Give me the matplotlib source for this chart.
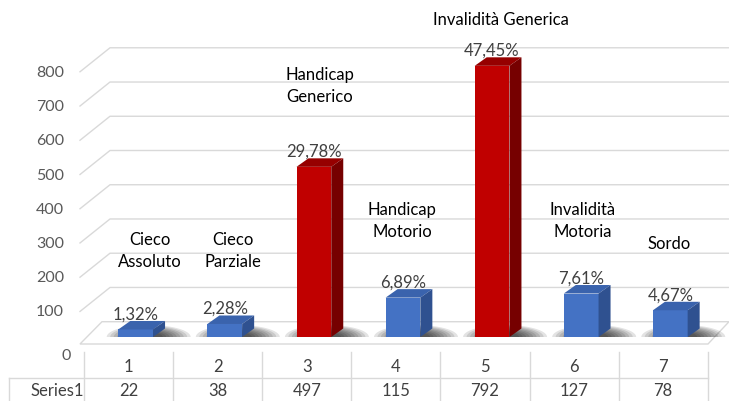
import matplotlib
matplotlib.use('Agg')
import numpy as np
import matplotlib.pyplot as plt
from matplotlib.patches import Polygon
from matplotlib.lines import Line2D
from matplotlib.transforms import IdentityTransform

# --- data ---
categories = ['1', '2', '3', '4', '5', '6', '7']
values = [22, 38, 497, 115, 792, 127, 78]
pct_labels = ['1,32%', '2,28%', '29,78%', '6,89%', '47,45%', '7,61%', '4,67%']
disability = ['Cieco\nAssoluto', 'Cieco\nParziale', 'Handicap\nGenerico',
              'Handicap\nMotorio', 'Invalidità Generica', 'Invalidità\nMotoria', 'Sordo']
is_red = [False, False, True, False, True, False, False]
y_ticks = [0, 100, 200, 300, 400, 500, 600, 700, 800]
series_name = 'Series1'

# --- layout (pixels, origin top-left) ---
W, H, DPI = 729, 402, 100
BASE_PX = 338          # bar bases
PX_PER_UNIT = 0.3424
COL_LEFT, COL_W = 84, 89.1
BAR_W = 0.39
BAR_SHIFT = 0.08
DEPTH_X, DEPTH_Y = 12, 8.5     # bar depth (right, up)
WALL_UP = 15.3                 # back wall above bar plane
SLANT_X0, SLANT_X1, WALL_RIGHT = 80, 110, 729
# name label centres (pixels)
name_pos = [(150, 251), (233, 251), (320, 86), (402, 221), (501, 20), (583, 221), (669, 244)]

GRID = '#d9d9d9'
BLUE = ('#4472c4', '#3a63ad', '#2f5190')   # front, top, side
RED = ('#c00000', '#960000', '#760000')

plt.rcParams['font.family'] = ['Lato', 'DejaVu Sans']

fig = plt.figure(figsize=(W / DPI, H / DPI), dpi=DPI)
ymax = 850
ax = fig.add_axes([COL_LEFT / W, (H - BASE_PX) / H, 7 * COL_W / W, ymax * PX_PER_UNIT / H])
ax.set_xlim(-0.5, 6.5)
ax.set_ylim(0, ymax)
ax.axis('off')
ID = IdentityTransform()


def disp(x, y):
    return ax.transData.transform((x, y))


y0 = disp(0, 0)[1]

# back wall gridlines + slants, tick labels
for v in y_ticks:
    by = disp(0, v)[1] + WALL_UP
    fy = by - 24
    if v > 0:
        ax.add_line(Line2D([SLANT_X0, SLANT_X1, WALL_RIGHT], [fy, by, by], transform=ID,
                           color=GRID, lw=1, clip_on=False, zorder=1))
        fig.text(64, fy, str(v), transform=ID, ha='right', va='center',
                 fontsize=11.5, color='#595959')
    else:
        fig.text(71, H - 356, str(v), transform=ID, ha='right', va='center',
                 fontsize=11.5, color='#595959')

# floor
floor = Polygon([(SLANT_X0, y0 - 7), (708, y0 - 7), (WALL_RIGHT, y0 + WALL_UP),
                 (102, y0 + WALL_UP)], closed=True, transform=ID, facecolor='white',
                edgecolor=GRID, lw=1, clip_on=False, zorder=1)
ax.add_patch(floor)

xs = [i + BAR_SHIFT for i in range(len(values))]

# soft shadows behind the bar bases (upper half-ellipses, stacked)
theta = np.linspace(0, np.pi, 40)
for x in xs:
    cx = disp(x, 0)[0] + 13
    for k in range(9):
        rx, ry = 42 - k * 3.5, 12 - k * 0.9
        pts = np.column_stack([cx + rx * np.cos(theta), y0 + ry * np.sin(theta)])
        ax.add_patch(Polygon(pts, closed=True, transform=ID, facecolor='black', alpha=0.11,
                             lw=0, clip_on=False, zorder=2))

# bars: front faces via bar, top/side faces from the same geometry
front_cols = [RED[0] if r else BLUE[0] for r in is_red]
ax.bar(xs, values, BAR_W, color=front_cols, zorder=4, clip_on=False)
for x, v, r in zip(xs, values, is_red):
    cols = RED if r else BLUE
    l, b = disp(x - BAR_W / 2, 0)
    rr, t = disp(x + BAR_W / 2, v)
    top = [(l, t), (rr, t), (rr + DEPTH_X, t + DEPTH_Y), (l + DEPTH_X, t + DEPTH_Y)]
    side = [(rr, b), (rr + DEPTH_X, b + DEPTH_Y), (rr + DEPTH_X, t + DEPTH_Y), (rr, t)]
    ax.add_patch(Polygon(top, closed=True, transform=ID, facecolor=cols[1], lw=0,
                         clip_on=False, zorder=4))
    ax.add_patch(Polygon(side, closed=True, transform=ID, facecolor=cols[2], lw=0,
                         clip_on=False, zorder=4))

# percent labels
for x, v, s in zip(xs, values, pct_labels):
    ax.annotate(s, (x, v), xytext=(0, 11.5), textcoords='offset points', ha='center',
                va='center', fontsize=12, color='#404040', zorder=6, annotation_clip=False)

# category names
for (px, py), s in zip(name_pos, disability):
    fig.text(px, H - py, s, transform=ID, ha='center', va='center', fontsize=12,
             color='black', linespacing=1.45)

# data table
t_top, t_mid, t_bot = H - 353, H - 379, 0
for i in range(len(categories) + 1):
    xl = disp(i - 0.5, 0)[0]
    fig.add_artist(Line2D([xl, xl], [t_top, t_bot], transform=ID, color=GRID, lw=1))
fig.add_artist(Line2D([9, 9], [t_mid, t_bot], transform=ID, color=GRID, lw=1))
fig.add_artist(Line2D([9, disp(6.5, 0)[0]], [t_mid, t_mid], transform=ID, color=GRID, lw=1))
for i, (c, v) in enumerate(zip(categories, values)):
    xc = disp(i, 0)[0]
    fig.text(xc, H - 367, c, transform=ID, ha='center', va='center', fontsize=12,
             color='#404040')
    fig.text(xc, H - 391, str(v), transform=ID, ha='center', va='center', fontsize=12,
             color='#404040')
fig.text(57, H - 391, series_name, transform=ID, ha='center', va='center', fontsize=12,
         color='#404040')

fig.savefig('out.png', dpi=DPI)
